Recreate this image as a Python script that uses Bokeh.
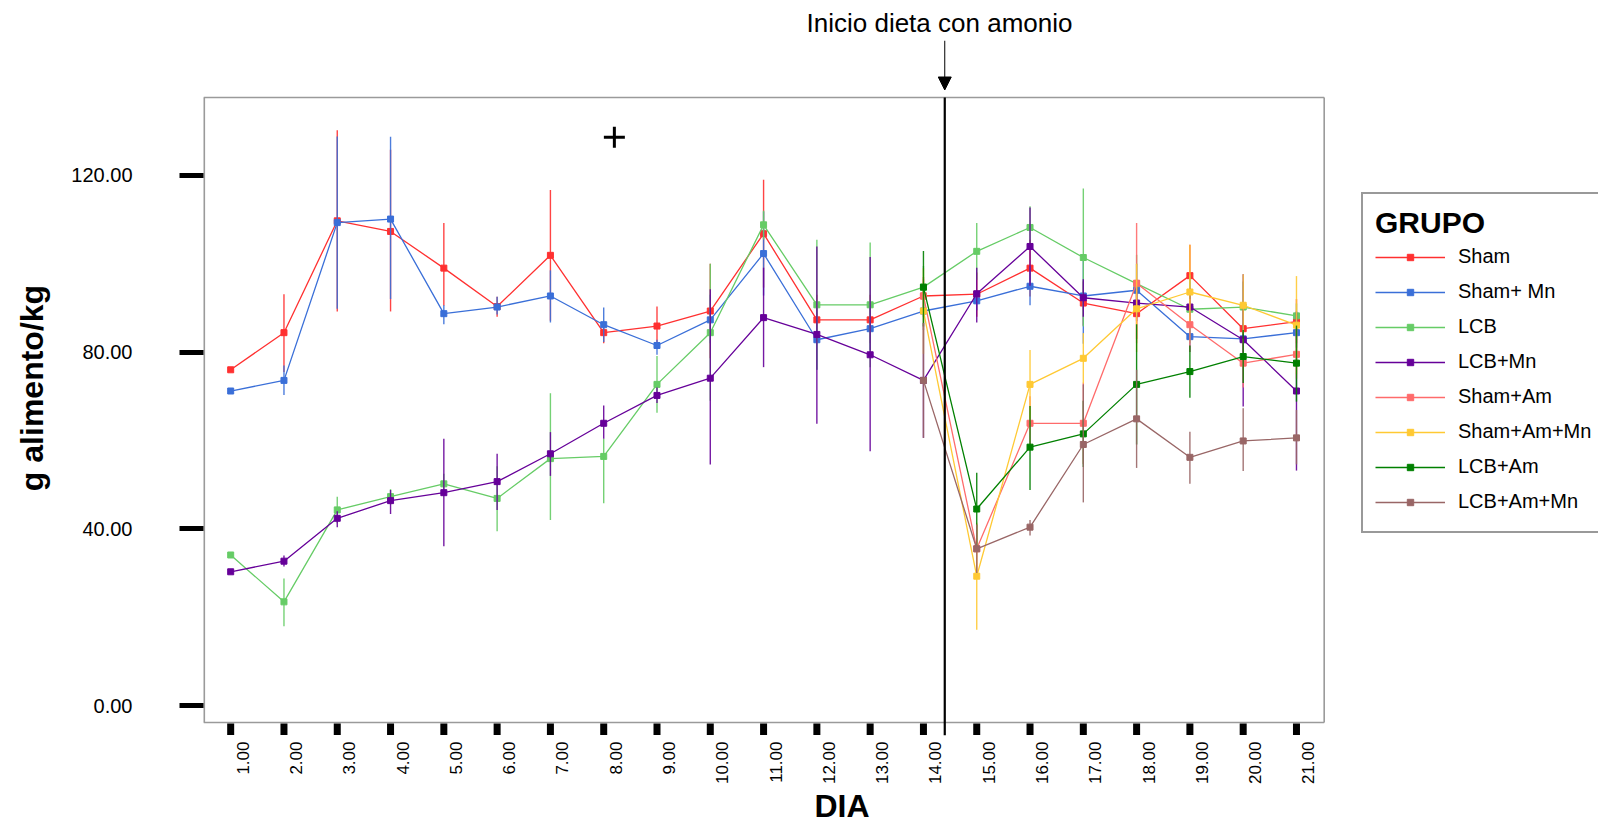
import math
from bokeh.plotting import figure
from bokeh.models import (Range1d, FixedTicker, NumeralTickFormatter, CustomJSTickFormatter,
                          Legend, LegendItem, Arrow, NormalHead, Title)
from bokeh.embed import file_html
from bokeh.resources import INLINE

# ---------------- data ----------------
days = list(range(1, 22))
days_am = list(range(14, 22))

sham = [76.0, 84.4, 109.7, 107.3, 99.0, 90.3, 101.9, 84.4, 85.9, 89.3, 106.8,
        87.3, 87.3, 92.7, 93.1, 99.0, 91.1, 88.7, 97.3, 85.3, 86.9]
sham_lo = [75.5, 75.5, 89.2, 89.2, 90.5, 88.0, 87.1, 82.0, 81.5, 78.6, 94.6,
           82.0, 82.0, 88.0, 88.0, 92.6, 86.0, 83.0, 90.3, 80.0, 82.0]
sham_hi = [76.5, 93.1, 130.2, 125.8, 109.2, 92.5, 116.7, 87.0, 90.3, 100.0, 119.0,
           93.0, 93.0, 97.0, 98.0, 105.4, 96.0, 94.5, 104.3, 91.0, 92.0]

sham_mn = [71.2, 73.6, 109.3, 110.1, 88.7, 90.2, 92.7, 86.2, 81.5, 87.3, 102.3,
           82.8, 85.3, 89.3, 91.6, 94.9, 92.7, 94.0, 83.5, 83.0, 84.4]
sham_mn_lo = [70.7, 70.3, 89.8, 92.0, 86.3, 88.5, 86.7, 82.3, 79.4, 82.0, 92.8,
              76.0, 80.5, 85.0, 89.5, 90.6, 81.9, 88.0, 80.0, 79.5, 81.0]
sham_mn_hi = [71.7, 77.0, 128.8, 128.7, 90.6, 92.5, 98.5, 90.1, 82.8, 93.0, 111.8,
              90.0, 90.0, 93.6, 93.7, 99.4, 101.0, 100.0, 87.0, 86.5, 88.0]

lcb = [34.1, 23.5, 44.3, 47.3, 50.2, 46.9, 55.9, 56.4, 72.7, 84.4, 108.8,
       90.7, 90.7, 94.7, 102.8, 108.2, 101.4, 95.5, 89.7, 90.2, 88.2]
lcb_lo = [33.6, 18.0, 41.3, 45.5, 48.0, 39.5, 42.0, 45.8, 66.3, 69.0, 105.5,
          76.0, 76.6, 90.0, 96.4, 104.0, 85.8, 89.0, 82.0, 84.0, 85.0]
lcb_hi = [34.6, 28.8, 47.3, 49.0, 52.5, 54.2, 70.7, 60.4, 79.1, 100.0, 112.0,
          105.4, 104.8, 99.5, 109.2, 113.0, 117.0, 102.0, 97.5, 96.0, 91.0]

lcb_mn = [30.3, 32.7, 42.4, 46.4, 48.2, 50.7, 57.0, 63.9, 70.2, 74.1, 87.8,
          84.0, 79.4, 73.6, 93.2, 103.9, 92.3, 91.1, 90.2, 82.8, 71.2]
lcb_mn_lo = [29.8, 31.5, 40.4, 43.4, 36.1, 44.3, 52.0, 60.4, 68.5, 54.6, 76.6,
             63.8, 57.6, 60.6, 86.7, 95.0, 88.0, 87.0, 86.0, 67.7, 53.2]
lcb_mn_hi = [30.8, 34.0, 44.0, 48.8, 60.4, 57.0, 61.9, 67.9, 72.0, 94.2, 99.1,
             103.9, 101.5, 86.6, 99.1, 112.7, 96.5, 95.0, 94.5, 97.6, 89.2]

sham_am = [92.7, 35.5, 63.9, 63.9, 95.6, 86.2, 77.5, 79.5]
sham_am_lo = [89.0, 30.0, 58.0, 54.7, 82.0, 80.0, 72.0, 74.0]
sham_am_hi = [96.5, 41.0, 70.0, 73.1, 109.2, 92.0, 83.0, 85.0]

sham_am_mn = [89.3, 29.3, 72.7, 78.6, 89.8, 93.6, 90.6, 86.1]
sham_am_mn_lo = [79.6, 17.2, 64.9, 72.9, 80.0, 87.0, 84.0, 75.0]
sham_am_mn_hi = [99.0, 41.4, 80.5, 84.3, 100.0, 104.3, 97.6, 97.2]

lcb_am = [94.7, 44.5, 58.5, 61.5, 72.7, 75.6, 79.0, 77.5]
lcb_am_lo = [85.8, 36.0, 48.8, 54.0, 59.1, 69.7, 73.0, 68.8]
lcb_am_hi = [102.9, 52.7, 67.8, 69.0, 86.3, 81.5, 85.0, 86.0]

lcb_am_mn = [73.6, 35.5, 40.4, 59.1, 64.9, 56.2, 59.9, 60.6]
lcb_am_mn_lo = [60.6, 30.0, 38.5, 46.0, 53.8, 50.2, 53.1, 54.6]
lcb_am_mn_hi = [86.6, 41.0, 42.0, 72.7, 76.0, 62.0, 67.3, 66.9]

groups = ["Sham", "Sham+ Mn", "LCB", "LCB+Mn", "Sham+Am", "Sham+Am+Mn", "LCB+Am", "LCB+Am+Mn"]
colors = ["#ff3030", "#3a6fd8", "#66cc66", "#660099", "#ff6b6b", "#ffc933", "#008000", "#996666"]

y_ticks = [0, 40, 80, 120]
diet_start_day = [14.4]
plus_x = [8.2]
plus_y = [128.6]

series = [
    (days, sham, sham_lo, sham_hi),
    (days, sham_mn, sham_mn_lo, sham_mn_hi),
    (days, lcb, lcb_lo, lcb_hi),
    (days, lcb_mn, lcb_mn_lo, lcb_mn_hi),
    (days_am, sham_am, sham_am_lo, sham_am_hi),
    (days_am, sham_am_mn, sham_am_mn_lo, sham_am_mn_hi),
    (days_am, lcb_am, lcb_am_lo, lcb_am_hi),
    (days_am, lcb_am_mn, lcb_am_mn_lo, lcb_am_mn_hi),
]

FONT = "Liberation Sans"

# ---------------- figure ----------------
PPX = 53.29          # pixels per day
PPY = 4.4265         # pixels per unit
x0 = 0.49
x_box_hi = 21.52
x1 = x0 + (1598 - 203) / PPX            # frame reaches the right edge (legend lives there)
y_box_lo, y_box_hi = -3.8, 137.6        # visible plot box
y_top = 150.5                           # frame extends above the box for the arrow
y_lo = y_box_lo - 13 / PPY              # ... and below it for the tick marks
tick_len = 12.5 / PPY
label_shift = 12 / PPX                  # labels sit a little right of the ticks

p = figure(width=1598, height=825,
           x_range=Range1d(x0, x1), y_range=Range1d(y_lo, y_top),
           output_backend="svg", toolbar_location=None,
           min_border_left=203, min_border_right=0,
           min_border_top=40, min_border_bottom=89)
p.background_fill_color = "white"
p.border_fill_color = "white"
p.outline_line_color = None
p.xgrid.grid_line_color = None
p.ygrid.grid_line_color = None

p.title = Title(text="Inicio dieta con amonio", align="left", offset=603,
                standoff=6, text_font=FONT, text_font_size="26px",
                text_font_style="normal", text_color="black")
p.title_location = "above"

xa = p.xaxis[0]
xa.ticker = FixedTicker(ticks=[d + label_shift for d in days])
xa.formatter = CustomJSTickFormatter(code="return (tick - %.6f).toFixed(2);" % label_shift)
xa.major_tick_out = 0
xa.major_tick_in = 0
xa.minor_tick_out = 0
xa.minor_tick_in = 0
xa.axis_line_color = None
xa.major_label_orientation = math.pi / 2
xa.major_label_standoff = 6
xa.major_label_text_font = FONT
xa.major_label_text_font_size = "17px"
xa.major_label_text_color = "black"

ya = p.yaxis[0]
ya.ticker = FixedTicker(ticks=y_ticks)
ya.formatter = NumeralTickFormatter(format="0.00")
ya.major_tick_out = 24
ya.major_tick_in = 0
ya.major_tick_line_width = 5
ya.major_tick_line_color = "black"
ya.minor_tick_out = 0
ya.minor_tick_in = 0
ya.axis_line_color = None
ya.major_label_standoff = 47
ya.major_label_text_font = FONT
ya.major_label_text_font_size = "20px"
ya.major_label_text_color = "black"
ya.axis_label = "g alimento/kg"
ya.axis_label_standoff = 18
ya.axis_label_text_font = FONT
ya.axis_label_text_font_size = "32px"
ya.axis_label_text_font_style = "bold"
ya.axis_label_text_color = "black"

p.add_layout(Title(text="DIA", align="left", offset=611, vertical_align="top",
                   standoff=0, text_font=FONT, text_font_size="32px",
                   text_font_style="bold", text_color="black"), "below")

# plot box
box_col = "#9a9a9a"
p.segment(x0=[x0, x_box_hi, x0, x0], y0=[y_box_lo, y_box_lo, y_box_hi, y_box_lo],
          x1=[x0, x_box_hi, x_box_hi, x_box_hi], y1=[y_box_hi, y_box_hi, y_box_hi, y_box_lo],
          line_color=box_col, line_width=[3.2, 1.6, 1.6, 1.6])

# x tick marks hanging under the box
p.segment(x0=days, y0=[y_box_lo - 0.2] * len(days), x1=days,
          y1=[y_box_lo - tick_len] * len(days),
          line_color="black", line_width=7, line_cap="butt")

# ---------------- data marks ----------------
items = []
for (xs, ys, lo, hi), name, col in zip(series, groups, colors):
    p.segment(x0=xs, y0=lo, x1=xs, y1=hi, line_color=col, line_width=1.4, line_alpha=0.9)
    lr = p.line(xs, ys, line_color=col, line_width=1.3)
    sr = p.scatter(xs, ys, marker="square", size=6, fill_color=col, line_color=col)
    items.append(LegendItem(label=name, renderers=[lr, sr]))

p.scatter(plus_x, plus_y, marker="cross", size=21, line_width=3, line_color="black")

# diet start line and arrow
p.segment(x0=diet_start_day, y0=[y_lo], x1=diet_start_day, y1=[y_box_hi],
          line_color="black", line_width=2.2)
p.add_layout(Arrow(end=NormalHead(size=13, fill_color="black", line_color="black", line_width=1),
                   x_start=diet_start_day[0], y_start=y_top,
                   x_end=diet_start_day[0], y_end=139.3,
                   line_color="black", line_width=1))

# ---------------- legend ----------------
legend = Legend(items=items, title="GRUPO", location=(1158, 202.5))
legend.title_text_font = FONT
legend.title_text_font_size = "30px"
legend.title_text_font_style = "bold"
legend.title_text_color = "black"
legend.title_standoff = 0
legend.label_text_font = FONT
legend.label_text_font_size = "20px"
legend.label_text_color = "black"
legend.glyph_width = 70
legend.glyph_height = 16
legend.label_height = 34
legend.label_width = 200
legend.label_standoff = 13
legend.spacing = 1
legend.padding = 12
legend.margin = 0
legend.border_line_color = "#333333"
legend.border_line_width = 2
legend.background_fill_color = "white"
legend.background_fill_alpha = 1
p.add_layout(legend, "center")

open("out.html", "w").write(file_html(p, INLINE))
